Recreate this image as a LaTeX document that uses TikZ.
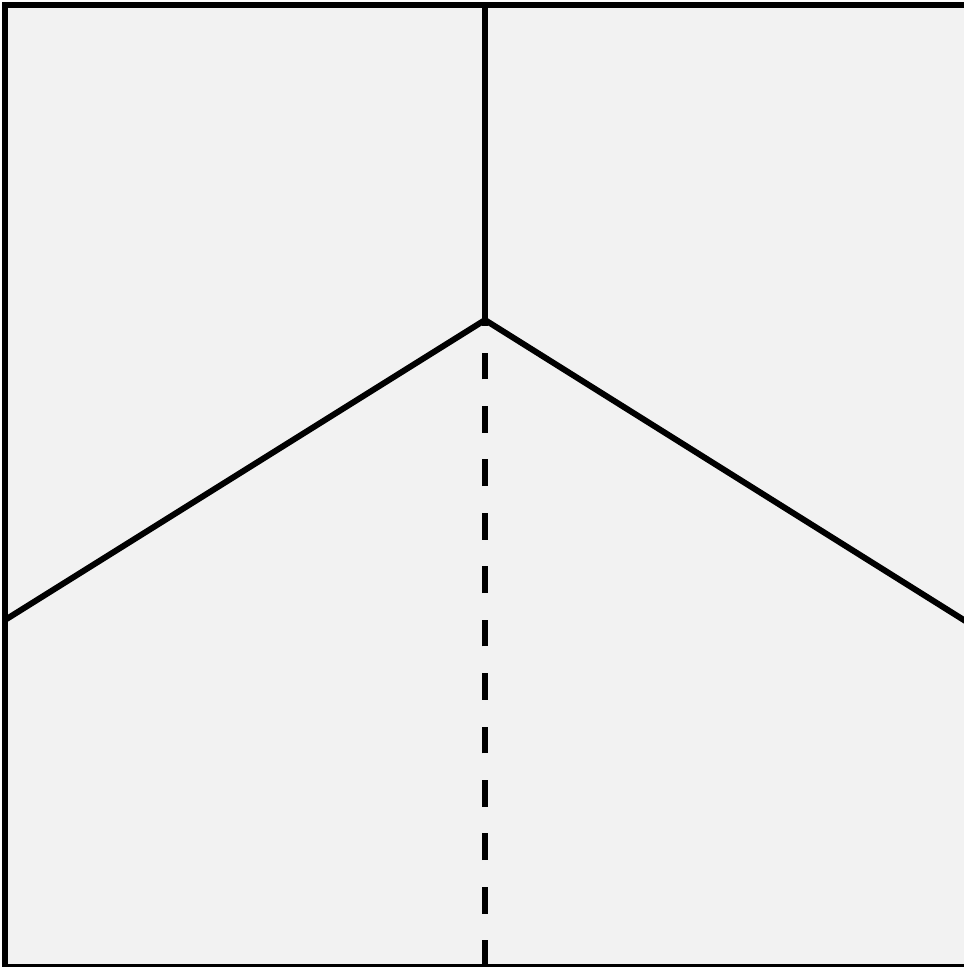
\documentclass[tikz,border=0pt]{standalone}
\usepackage{tikz}
\usetikzlibrary{calc}
\tikzset{edge/.style={line width=1.7pt, line join=miter},
         hidden/.style={edge, dash pattern=on 7.6pt off 7.6pt}}

\begin{document}
\begin{tikzpicture}

    \useasboundingbox (0,0) rectangle (9.63,9.67);
    \fill[black!5] (0.05,0.0) rectangle (9.67,9.62);

    \coordinate (bl) at (0.05,0.0);
    \coordinate (br) at (9.67,0.0);
    \coordinate (tr) at (9.67,9.62);
    \coordinate (tl) at (0.05,9.62);

    \coordinate (apex) at (4.85,6.47);
    \coordinate (top) at (4.85,9.62);
    \coordinate (bottom) at (4.85,0.0);
    \coordinate (left) at (0.05,3.47);
    \coordinate (right) at (9.67,3.45);

    \draw[edge] (bl) -- (br) -- (tr) -- (tl) -- cycle;

    \draw[edge] (top) -- (apex);
    \draw[edge] (left) -- (apex) -- (right);
    \draw[hidden] (bottom) -- (apex);

\end{tikzpicture}
\end{document}
